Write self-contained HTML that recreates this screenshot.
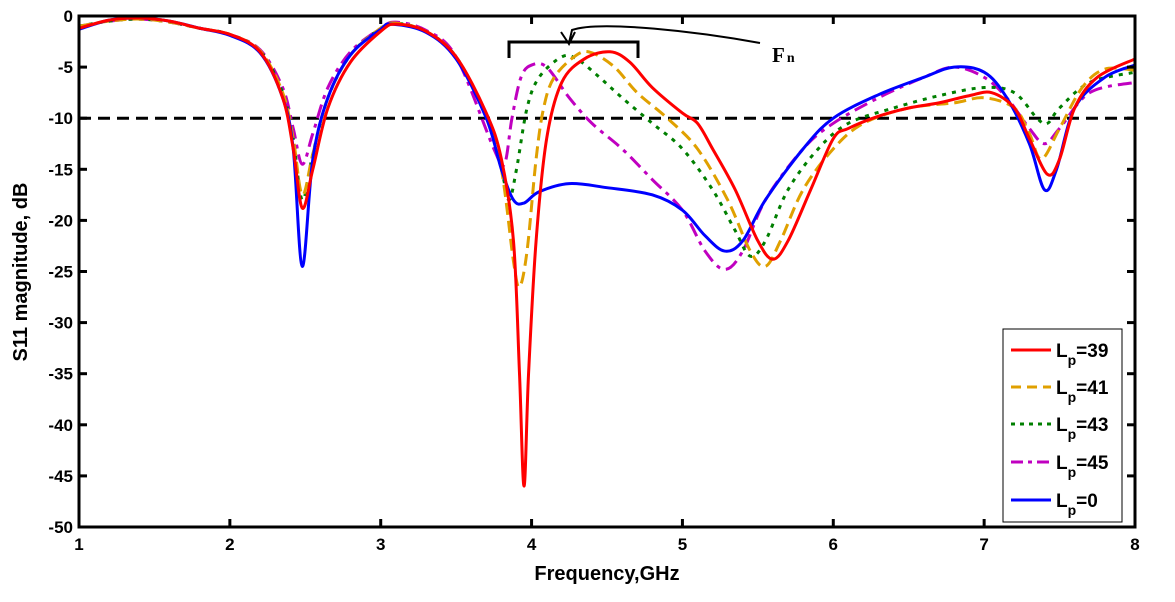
<!DOCTYPE html>
<html><head><meta charset="utf-8"><style>
body{margin:0;background:#fff}
svg{display:block;font-family:"Liberation Sans",sans-serif}
</style></head><body>
<svg id="chart" width="1175" height="602">
<g id="plot"></g>
</svg>
<script>
const xTicks=[1,2,3,4,5,6,7,8];
const yTicks=[0,-5,-10,-15,-20,-25,-30,-35,-40,-45,-50];
const fRed=[1,1.2,1.4,1.6,1.8,2,2.2,2.35,2.42,2.48,2.55,2.65,2.8,3,3.1,3.3,3.5,3.7,3.8,3.88,3.92,3.95,3.98,4.03,4.1,4.2,4.35,4.52,4.65,4.8,5,5.1,5.2,5.35,5.5,5.6,5.7,5.85,6,6.1,6.3,6.5,6.7,6.9,7.05,7.2,7.3,7.42,7.5,7.6,7.75,8];
const vRed=[-1.2,-0.4,-0.2,-0.5,-1.2,-1.8,-3.5,-8,-13,-18.8,-15,-9,-4.5,-1.5,-0.8,-1.5,-4,-9.5,-14,-22,-35,-46,-35,-22,-12,-6.5,-4.2,-3.5,-4.5,-7,-9.5,-10.5,-13,-17,-22,-23.8,-22,-17,-12,-11,-9.8,-9,-8.5,-7.8,-7.5,-9,-12,-15.5,-14,-9,-6,-4.2];
const fOrange=[1,1.2,1.4,1.6,1.8,2,2.2,2.35,2.42,2.48,2.55,2.65,2.8,3,3.1,3.3,3.5,3.7,3.8,3.88,3.92,3.97,4.03,4.08,4.15,4.3,4.4,4.55,4.7,4.9,5.1,5.3,5.45,5.55,5.65,5.8,6,6.2,6.5,6.8,7,7.2,7.3,7.38,7.5,7.65,7.8,8];
const vOrange=[-1,-0.5,-0.3,-0.6,-1.2,-1.8,-3.4,-7.5,-12,-17.5,-13.5,-8,-3.8,-1.2,-0.7,-1.5,-4,-9.8,-15,-24,-26.5,-23,-14,-9,-6,-3.8,-3.6,-5,-7.5,-10,-13,-18,-23,-24.5,-22,-17,-13,-10.5,-9,-8.5,-8,-9,-11.5,-14,-11,-7,-5.2,-5.3];
const fGreen=[1,1.2,1.4,1.6,1.8,2,2.2,2.35,2.42,2.48,2.55,2.65,2.8,3,3.1,3.3,3.5,3.7,3.8,3.85,3.9,3.97,4.05,4.2,4.3,4.45,4.6,4.8,5,5.2,5.35,5.45,5.55,5.7,5.9,6.1,6.4,6.7,7,7.2,7.35,7.42,7.5,7.7,8];
const vGreen=[-1,-0.5,-0.3,-0.6,-1.2,-1.8,-3.4,-7.5,-12,-18,-13.5,-8,-3.8,-1.2,-0.7,-1.5,-4,-9.8,-15,-18,-15,-9,-6,-4,-4.2,-6,-8,-10.5,-13,-17,-21,-23.5,-22,-17,-13,-10.5,-9,-7.8,-7,-7.5,-10,-10.5,-9,-6.5,-5.5];
const fMagenta=[1,1.2,1.4,1.6,1.8,2,2.2,2.35,2.42,2.48,2.55,2.65,2.8,3,3.1,3.3,3.5,3.75,3.82,3.87,3.93,4,4.1,4.25,4.4,4.6,4.8,5,5.15,5.28,5.4,5.55,5.8,6,6.3,6.6,6.8,7,7.15,7.3,7.4,7.5,7.7,8];
const vMagenta=[-1,-0.5,-0.3,-0.6,-1.2,-1.8,-3.3,-7,-11,-14.5,-11.5,-7,-3.5,-1.2,-0.6,-1.4,-4,-13,-14.5,-10,-6,-4.8,-5,-8,-10.5,-13,-16,-19,-23,-24.8,-23,-18,-13,-10.5,-8,-6,-5,-6,-8,-11,-12.5,-11,-7.5,-6.5];
const fBlue=[1,1.2,1.4,1.6,1.8,2,2.2,2.35,2.42,2.48,2.55,2.65,2.8,3,3.07,3.3,3.5,3.7,3.8,3.88,3.95,4.05,4.25,4.5,4.8,5,5.15,5.28,5.4,5.55,5.8,6,6.3,6.6,6.8,7,7.15,7.3,7.4,7.48,7.6,7.8,8];
const vBlue=[-1.3,-0.4,-0.2,-0.5,-1.2,-1.9,-3.6,-8,-13,-24.5,-14,-8,-3.8,-1.3,-0.8,-1.6,-4.2,-10,-15,-18,-18.3,-17.2,-16.4,-16.8,-17.5,-19,-21.5,-23,-22,-18,-13,-10,-7.7,-6,-5,-5.5,-8,-12.5,-17,-15,-9,-6,-4.8];
const threshold=-10;

const NS="http://www.w3.org/2000/svg";
const svg=document.getElementById('chart');
const X0=79,X1=1135,Y0=16,Y1=527;
const sx=f=>X0+(f-1)/7*(X1-X0);
const sy=v=>Y0+(0-v)/50*(Y1-Y0);
function mk(tag,attrs,parent){const e=document.createElementNS(NS,tag);for(const k in attrs)e.setAttribute(k,attrs[k]);(parent||svg).appendChild(e);return e;}
function path(fs,vs){const p=fs.map((f,i)=>[sx(f),sy(vs[i])]);let d=`M${p[0][0]},${p[0][1]}`;
for(let i=0;i<p.length-1;i++){const a=p[i-1]||p[i],b=p[i],c=p[i+1],e=p[i+2]||c;
d+=` C${b[0]+(c[0]-a[0])/6},${b[1]+(c[1]-a[1])/6} ${c[0]-(e[0]-b[0])/6},${c[1]-(e[1]-b[1])/6} ${c[0]},${c[1]}`;}return d;}

const thr=mk('line',{x1:X0,x2:X1,y1:sy(threshold),y2:sy(threshold),stroke:'#000','stroke-width':3,'stroke-dasharray':'12,7'});



const series=[
 ['series-lp45',fMagenta,vMagenta,'#c000c0','14,6,4,6'],
 ['series-lp43',fGreen,vGreen,'#007f00','4,6'],
 ['series-lp41',fOrange,vOrange,'#e0a000','12,6'],
 ['series-lp0',fBlue,vBlue,'#0000ff',''],
 ['series-lp39',fRed,vRed,'#ff0000','']];
series.forEach(s=>{const e=mk('path',{d:path(s[1],s[2]),fill:'none',stroke:s[3],'stroke-width':3,'stroke-dasharray':s[4],'stroke-linejoin':'round'});

});

const frame=mk('rect',{x:X0,y:Y0,width:X1-X0,height:Y1-Y0,fill:'none',stroke:'#000','stroke-width':3});


xTicks.forEach(t=>{const x=sx(t);
mk('line',{x1:x,x2:x,y1:Y1,y2:Y1-8,stroke:'#000','stroke-width':3});
mk('line',{x1:x,x2:x,y1:Y0,y2:Y0+8,stroke:'#000','stroke-width':3});
const l=mk('text',{x:x,y:Y1+23,'text-anchor':'middle','font-size':17,'font-weight':'bold'});l.textContent=t;

});
yTicks.forEach(t=>{const y=sy(t);
mk('line',{x1:X0,x2:X0+8,y1:y,y2:y,stroke:'#000','stroke-width':3});
mk('line',{x1:X1,x2:X1-8,y1:y,y2:y,stroke:'#000','stroke-width':3});
const l=mk('text',{x:X0-6,y:y+6,'text-anchor':'end','font-size':17,'font-weight':'bold'});l.textContent=t;

});
</script>
<svg width="1175" height="602" style="position:absolute;left:0;top:0">
<text x="607" y="580" text-anchor="middle" font-size="20" font-weight="bold">Frequency,GHz</text>
<text transform="translate(27,272) rotate(-90)" text-anchor="middle" font-size="20" font-weight="bold">S11 magnitude, dB</text>
<path d="M509,58 V42 H638 V58" fill="none" stroke="#000" stroke-width="3"/>
<path d="M760,43 C700,32 600,20 572,30 L569,43 M561,32 L569,44 L575,32" fill="none" stroke="#000" stroke-width="2"/>
<text x="772" y="62" font-family="Liberation Serif,serif" font-weight="bold" font-size="21">F<tspan font-size="14" dx="2">n</tspan></text>
<g font-size="19" font-weight="bold">
<rect x="1003" y="329" width="119" height="193" fill="#fff" stroke="#000" stroke-width="1"/>
<line x1="1011" x2="1051" y1="350" y2="350" stroke="#ff0000" stroke-width="3"/>
<text x="1056" y="357">L<tspan font-size="14" dy="8">p</tspan><tspan dy="-8">=39</tspan></text>
<line x1="1011" x2="1051" y1="387" y2="387" stroke="#e0a000" stroke-width="3" stroke-dasharray="10,6"/>
<text x="1056" y="394">L<tspan font-size="14" dy="8">p</tspan><tspan dy="-8">=41</tspan></text>
<line x1="1011" x2="1051" y1="424" y2="424" stroke="#007f00" stroke-width="3" stroke-dasharray="4,5"/>
<text x="1056" y="431">L<tspan font-size="14" dy="8">p</tspan><tspan dy="-8">=43</tspan></text>
<line x1="1011" x2="1051" y1="462" y2="462" stroke="#c000c0" stroke-width="3" stroke-dasharray="12,5,4,5"/>
<text x="1056" y="469">L<tspan font-size="14" dy="8">p</tspan><tspan dy="-8">=45</tspan></text>
<line x1="1011" x2="1051" y1="500" y2="500" stroke="#0000ff" stroke-width="3"/>
<text x="1056" y="507">L<tspan font-size="14" dy="8">p</tspan><tspan dy="-8">=0</tspan></text>
</g>
</svg>
</body></html>
